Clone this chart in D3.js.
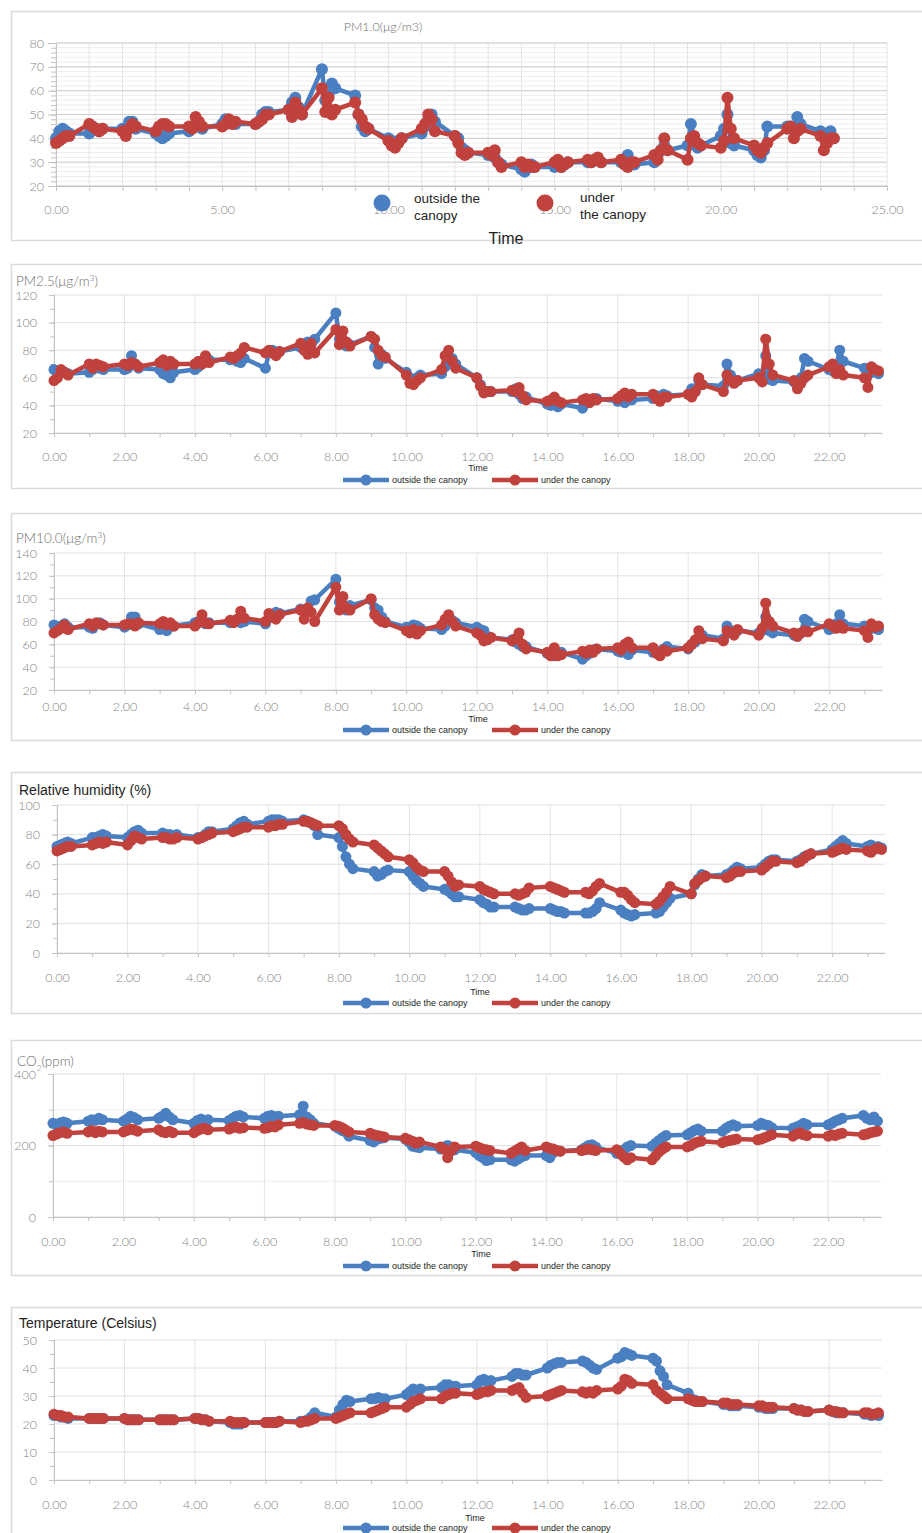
<!DOCTYPE html>
<html>
<head>
<meta charset="utf-8">
<script src="https://cdn.jsdelivr.net/npm/d3@7"></script>
<style>
  body { margin: 0; background: #fff; }
  svg { display: block; }
</style>
</head>
<body>
<svg id="chart" width="922" height="1533"></svg>
<script>
// Sampling times, written as HH.MM (hour.minute), five readings per hour
const TIME = [
  0.00,0.10,0.20,0.30,0.40, 1.00,1.10,1.20,1.30,1.40, 2.00,2.10,2.20,2.30,2.40,
  3.00,3.10,3.20,3.30,3.40, 4.00,4.10,4.20,4.30,4.40, 5.00,5.10,5.20,5.30,5.40,
  6.00,6.10,6.20,6.30,6.40, 7.00,7.10,7.20,7.30,7.40, 8.00,8.10,8.20,8.30,8.40,
  9.00,9.10,9.20,9.30,9.40, 10.00,10.10,10.20,10.30,10.40, 11.00,11.10,11.20,11.30,11.40,
  12.00,12.10,12.20,12.30,12.40, 13.00,13.10,13.20,13.30,13.40, 14.00,14.10,14.20,14.30,14.40,
  15.00,15.10,15.20,15.30,15.40, 16.00,16.10,16.20,16.30,16.40, 17.00,17.10,17.20,17.30,17.40,
  18.00,18.10,18.20,18.30,18.40, 19.00,19.10,19.20,19.30,19.40, 20.00,20.10,20.20,20.30,20.40,
  21.00,21.10,21.20,21.30,21.40, 22.00,22.10,22.20,22.30,22.40, 23.00,23.10,23.20,23.30,23.40
];

const SERIES_NAMES = ["outside the canopy", "under the canopy"];

// PM1.0 (μg/m3)
const PM1_OUT = [
  40,43,44,43,42, 42,44,44,43,44, 44,43,47,47,44, 42,41,40,41,42, 43,45,46,45,44, 46,48,47,47,46,
  46,47,50,51,51, 52,55,57,53,50, 69,56,58,63,61, 58,50,45,43,44, 40,39,38,39,40, 42,45,48,50,47,
  41,40,36,35,34, 33,34,32,30,29, 27,26,28,29,28, 28,29,28,29,30, 30,30,31,31,30, 30,31,33,30,29,
  30,33,35,37,35, 37,46,40,36,37, 41,44,50,38,37, 35,33,32,35,45, 45,45,44,49,46, 43,42,41,43,40
];
const PM1_UNDER = [
  38,39,40,41,41, 46,45,44,43,44, 43,41,44,46,45, 43,45,46,46,45, 45,44,49,47,45, 45,46,48,46,47,
  46,47,48,50,50, 52,49,55,52,50, 61,51,57,50,52, 55,50,48,45,44, 39,37,36,38,40, 44,46,50,48,43,
  41,38,34,33,34, 34,33,35,30,28, 30,28,29,28,28, 30,31,28,29,30, 31,30,31,32,30, 31,29,28,30,30,
  33,31,35,40,35, 31,40,41,38,37, 36,39,57,44,40, 37,35,34,36,38, 44,45,40,43,44, 41,35,38,40,40
];

// PM2.5 (μg/m³)
const PM25_OUT = [
  66,63,65,64,63, 64,66,68,67,66, 66,67,76,70,67, 66,63,62,60,64, 66,68,72,75,73, 73,74,72,71,74,
  67,78,80,77,79, 82,80,86,84,88, 107,88,85,83,84, 90,82,70,77,74, 64,60,58,60,62, 63,68,73,74,70,
  60,55,50,50,50, 50,52,48,45,46, 41,40,42,39,41, 38,42,43,44,45, 43,44,42,46,44, 45,47,44,48,47,
  48,52,50,58,55, 54,70,62,58,58, 63,62,76,59,58, 57,55,60,74,72, 66,65,68,80,72, 67,62,64,65,63
];
const PM25_UNDER = [
  58,60,66,64,62, 70,67,70,69,68, 70,69,71,70,68, 71,73,69,72,70, 70,72,70,76,71, 75,74,76,78,82,
  78,80,78,76,79, 85,80,77,85,78, 95,84,94,86,83, 90,88,80,76,75, 62,56,55,58,60, 66,76,80,72,67,
  60,54,49,50,50, 51,50,53,47,44, 43,44,46,43,42, 44,45,42,45,44, 45,47,49,46,48, 48,45,43,46,46,
  48,46,50,60,55, 50,62,58,56,58, 60,57,88,70,62, 58,52,56,60,62, 68,70,63,66,62, 60,53,68,66,65
];

// PM10.0 (μg/m³)
const PM10_OUT = [
  77,74,76,78,75, 75,74,78,79,77, 75,77,84,84,78, 73,74,72,76,76, 79,80,81,78,79, 79,80,82,79,80,
  78,83,86,88,87, 91,88,90,98,99, 117,97,93,90,94, 99,92,90,84,80, 75,74,77,76,74, 73,76,80,81,79,
  75,73,72,67,66, 64,62,60,58,58, 52,51,50,52,53, 47,50,52,55,56, 54,53,56,51,55, 53,54,52,56,58,
  56,60,62,65,68, 65,76,72,70,72, 70,72,84,72,70, 68,67,70,82,80, 73,74,78,86,78, 76,72,75,74,73
];
const PM10_UNDER = [
  70,72,74,77,73, 78,76,79,78,77, 77,78,78,76,79, 78,80,77,79,76, 76,79,86,79,78, 81,79,82,89,83,
  80,87,84,82,86, 90,82,92,88,80, 110,90,102,92,90, 100,86,82,80,79, 72,70,73,69,72, 77,82,86,80,76,
  70,68,63,64,66, 63,65,70,60,56, 53,50,57,50,51, 54,52,55,53,56, 57,55,60,62,57, 57,52,50,55,54,
  57,60,64,72,65, 63,72,70,68,73, 68,74,96,80,76, 70,67,70,72,71, 78,76,74,77,74, 72,66,78,75,76
];

// Relative humidity (%)
const RH_OUT = [
  72,73,74,75,74, 78,78,79,80,79, 78,80,82,83,81, 81,80,80,79,80, 78,78,80,82,82, 84,86,88,89,87,
  89,90,90,90,89, 90,89,88,86,80, 78,72,65,60,57, 55,52,53,55,56, 55,52,49,47,45, 43,42,40,38,38,
  36,34,33,31,31, 31,30,29,29,30, 30,29,28,28,27, 27,27,28,30,34, 29,27,26,25,26, 27,28,31,34,37,
  40,46,50,53,52, 53,54,56,58,57, 58,60,62,63,63, 62,63,65,66,67, 70,72,74,76,74, 72,73,71,72,71
];
const RH_UNDER = [
  69,70,71,72,72, 73,74,75,74,75, 73,76,79,78,77, 78,78,77,77,78, 77,78,79,80,81, 82,83,84,85,85,
  85,86,86,87,87, 89,89,88,87,86, 86,84,80,77,75, 73,71,69,67,65, 63,61,58,56,55, 55,52,48,45,46,
  45,43,42,41,40, 40,39,40,41,44, 45,44,43,42,41, 41,40,42,45,47, 41,41,39,36,34, 33,35,38,41,45,
  40,47,49,51,52, 51,52,54,55,55, 56,58,60,62,62, 61,62,64,66,67, 68,69,70,71,70, 69,68,70,71,70
];

// CO2 (ppm)
const CO2_OUT = [
  262,258,263,266,262, 268,272,270,276,272, 268,274,282,278,272, 276,282,290,280,272,
  262,270,274,268,272, 270,276,282,284,280, 276,282,284,280,282, 286,310,280,272,262,
  254,248,242,238,226, 214,210,218,220,222, 218,210,198,196,194, 190,196,200,186,188,
  180,172,166,158,160, 160,156,162,168,172, 172,166,180,186,184, 188,194,200,202,196,
  178,176,188,196,200, 198,206,214,222,228, 230,236,242,246,240, 240,248,254,258,254,
  256,262,258,256,250, 248,252,256,262,258, 258,262,268,272,276, 284,276,272,280,268
];
const CO2_UNDER = [
  228,232,236,238,234, 238,242,236,240,238, 238,242,246,244,240, 244,238,236,240,236,
  236,242,246,248,244, 246,250,252,248,250, 248,250,254,252,258, 262,264,260,258,256,
  256,254,250,244,238, 234,230,228,226,224, 220,216,212,206,210, 196,190,166,186,196,
  198,194,190,188,186, 178,184,190,196,186, 196,192,190,186,184, 186,188,190,188,186,
  188,178,168,160,166, 160,170,182,190,196, 196,200,206,210,212, 208,212,214,216,218,
  216,218,222,226,230, 226,232,236,230,228, 226,230,228,232,234, 230,232,236,238,240
];

// Temperature (Celsius)
const TEMP_OUT = [
  23,23,22.5,22.5,22, 22,22,22,22,22, 22,21.5,21.5,21.5,21.5, 21.5,21.5,21.5,21.5,21.5,
  22,22,21.5,21.5,21, 20.5,20,20,20,20.5, 20.5,20.5,20.5,20.5,21, 21,21,21.5,22.5,24,
  22.5,25,27,28.5,28, 29,29,29.5,29,29, 30.5,31.5,32.5,32,32.5, 33,34,34,33.5,33.5,
  34,35.5,36,35,35.5, 37,38,38,37.5,37.5, 40,41,41.5,42,42, 42.5,42,41,40,39.5,
  43.5,44,45.5,45,44.5, 43.5,42.5,39,37,34, 31,29,28.5,28,28, 27,27,26.5,26.5,26.5,
  26,26,25.5,25.5,25.5, 25.5,25,25,24.5,24.5, 25,24.5,24,24,24, 23.5,23.5,23,23.5,23
];
const TEMP_UNDER = [
  23.5,23,23,22.5,22.5, 22,22,22,22,22, 22,21.5,21.5,21.5,21.5, 21.5,21.5,21.5,21.5,21.5,
  22,22,21.5,21.5,21, 21,20.5,20.5,20.5,20.5, 20.5,20.5,20.5,20.5,21, 20.5,21,21,21.5,22,
  22,22.5,23,23.5,24, 24,24.5,25,25.5,26, 26,27,28,28.5,29, 29,30,30.5,31,31,
  30.5,31,31.5,31.5,32, 32,32.5,33,31,29.5, 30,30.5,31,31.5,32, 31.5,31,31.5,31,32,
  32.5,33.5,36,35.5,34.5, 34,32,31,30,29, 29,28.5,28,28,28, 27.5,27.5,27,27,27,
  26.5,26.5,26,26,26, 25.5,25,25,24.5,24.5, 25,24.5,24.5,24,24, 24,24,23.5,23.5,24
];

// Axis tick values
const X_TICKS_WIDE = [0, 5, 10, 15, 20, 25];
const X_TICKS = [0, 2, 4, 6, 8, 10, 12, 14, 16, 18, 20, 22];
const Y_TICKS_PM1 = [20, 30, 40, 50, 60, 70, 80];
const Y_TICKS_PM25 = [20, 40, 60, 80, 100, 120];
const Y_TICKS_PM10 = [20, 40, 60, 80, 100, 120, 140];
const Y_TICKS_RH = [0, 20, 40, 60, 80, 100];
const Y_TICKS_CO2 = [0, 200, 400];
const Y_TICKS_TEMP = [0, 10, 20, 30, 40, 50];

const BLUE = "#4a7fc2";
const RED = "#c1423d";
const LABEL_FONT = "Lato, 'Open Sans', sans-serif";
const TEXT_FONT = "'Liberation Sans', Arial, sans-serif";
const NARROW_FONT = "'Liberation Sans Narrow', 'Liberation Sans', Arial, sans-serif";

const svg = d3.select("#chart");
const fmtX = d3.format(".2f");

function range(a, b, step) {
  const out = [];
  for (let v = a; v <= b + 1e-9; v += step) out.push(+v.toFixed(6));
  return out;
}

function styleAxis(sel, color) {
  sel.select(".domain").attr("stroke", color).attr("stroke-width", 1);
  sel.selectAll(".tick line").attr("stroke", color);
  sel.selectAll(".tick text")
    .attr("fill", "#858585")
    .attr("font-family", LABEL_FONT)
    .attr("font-weight", 300)
    .attr("font-size", 12.5);
}

function drawPanel(cfg) {
  const g = svg.append("g");

  // panel frame
  g.append("rect")
    .attr("x", 11.5).attr("y", cfg.frameY + 0.5)
    .attr("width", 930).attr("height", cfg.frameH)
    .attr("fill", "#fff").attr("stroke", "#dadada").attr("stroke-width", 1.5);

  const x = d3.scaleLinear().domain(cfg.xDomain).range([cfg.left, cfg.right]);
  const y = d3.scaleLinear().domain(cfg.yDomain).range([cfg.bottom, cfg.top]);

  // minor horizontal grid
  g.append("g").selectAll("line").data(cfg.yGridMinor).join("line")
    .attr("x1", cfg.left).attr("x2", cfg.right)
    .attr("y1", d => y(d)).attr("y2", d => y(d))
    .attr("stroke", "#ededed").attr("stroke-width", 1);

  // vertical grid
  g.append("g").selectAll("line").data(cfg.xGrid).join("line")
    .attr("x1", d => x(d)).attr("x2", d => x(d))
    .attr("y1", cfg.top).attr("y2", cfg.bottom)
    .attr("stroke", "#e4e4e4").attr("stroke-width", 1);

  // major horizontal grid
  g.append("g").selectAll("line").data(cfg.yTicks).join("line")
    .attr("x1", cfg.left).attr("x2", cfg.right)
    .attr("y1", d => y(d)).attr("y2", d => y(d))
    .attr("stroke", cfg.majorGrid).attr("stroke-width", 1);

  // x axis: minor ticks, then labelled ticks
  g.append("g").attr("transform", `translate(0,${cfg.bottom})`)
    .call(d3.axisBottom(x).tickValues(cfg.xMinor).tickSize(cfg.xTickLen).tickSizeOuter(0).tickFormat(""))
    .call(s => styleAxis(s, "#c4c4c4"));
  g.append("g").attr("transform", `translate(0,${cfg.bottom})`)
    .call(d3.axisBottom(x).tickValues(cfg.xTicks).tickSize(0).tickPadding(cfg.labelY - cfg.bottom - 4.4).tickFormat(fmtX))
    .call(s => { styleAxis(s, "#c4c4c4"); s.select(".domain").remove(); });

  // y axis: minor ticks, then labelled ticks
  g.append("g").attr("transform", `translate(${cfg.left},0)`)
    .call(d3.axisLeft(y).tickValues(cfg.yMinor).tickSize(cfg.yMinorLen).tickSizeOuter(0).tickFormat(""))
    .call(s => styleAxis(s, "#c4c4c4"));
  g.append("g").attr("transform", `translate(${cfg.left},0)`)
    .call(d3.axisLeft(y).tickValues(cfg.yTicks).tickSize(cfg.yTickLen).tickSizeOuter(0).tickPadding(cfg.yPad).tickFormat(d3.format("d")))
    .call(s => styleAxis(s, "#c4c4c4"));

  // series: outside (blue) first, under (red) on top
  const line = d3.line().x(d => x(d[0])).y(d => y(d[1]));
  [[cfg.out, BLUE], [cfg.under, RED]].forEach(([vals, color]) => {
    const pts = TIME.map((t, i) => [t, vals[i]]);
    g.append("path").datum(pts)
      .attr("d", line)
      .attr("fill", "none").attr("stroke", color)
      .attr("stroke-width", cfg.lw).attr("stroke-linejoin", "round");
    g.append("g").selectAll("circle").data(pts).join("circle")
      .attr("cx", d => x(d[0])).attr("cy", d => y(d[1]))
      .attr("r", cfg.r).attr("fill", color);
  });

  // title
  const title = g.append("text")
    .attr("x", cfg.titleX).attr("y", cfg.titleY)
    .attr("text-anchor", cfg.titleAnchor || "start")
    .attr("font-family", cfg.titleDark ? TEXT_FONT : LABEL_FONT)
    .attr("font-weight", cfg.titleDark ? 400 : 300)
    .attr("font-size", cfg.titleSize)
    .attr("fill", cfg.titleDark ? "#1e1e1e" : "#6e6e6e");
  cfg.titleParts.forEach(p => {
    const ts = title.append("tspan").text(p.t);
    if (p.sup) ts.attr("baseline-shift", "super").attr("font-size", cfg.titleSize * 0.62);
    if (p.sub) ts.attr("baseline-shift", "sub").attr("font-size", cfg.titleSize * 0.62);
  });

  return { g, x, y };
}

// Small legend used under panels 2–6
function smallLegend(g, cfg) {
  const items = [
    { name: SERIES_NAMES[0], color: BLUE, x1: 343, x2: 389, tx: 392 },
    { name: SERIES_NAMES[1], color: RED, x1: 492, x2: 538, tx: 541 }
  ];
  g.append("text")
    .attr("x", cfg.timeX).attr("y", cfg.timeY + 4)
    .attr("text-anchor", "middle")
    .attr("font-family", NARROW_FONT).attr("font-size", 9).attr("fill", "#1e1e1e")
    .text("Time");
  items.forEach(it => {
    g.append("line")
      .attr("x1", it.x1).attr("x2", it.x2)
      .attr("y1", cfg.legendY).attr("y2", cfg.legendY)
      .attr("stroke", it.color).attr("stroke-width", 4.5);
    g.append("circle")
      .attr("cx", (it.x1 + it.x2) / 2).attr("cy", cfg.legendY)
      .attr("r", 5.5).attr("fill", it.color);
    g.append("text")
      .attr("x", it.tx).attr("y", cfg.legendY + 3)
      .attr("font-family", NARROW_FONT).attr("font-size", 9).attr("fill", "#1e1e1e")
      .text(it.name);
  });
}

// ---- Panel 1: PM1.0 ----
const p1 = drawPanel({
  frameY: 11, frameH: 229,
  left: 56, right: 887, top: 43, bottom: 186,
  xDomain: [0, 25], yDomain: [20, 80],
  xTicks: X_TICKS_WIDE, xMinor: range(0, 25, 1), xGrid: range(0, 25, 1), xTickLen: 5,
  yTicks: Y_TICKS_PM1, yMinor: range(20, 80, 2), yGridMinor: range(20, 80, 2),
  yTickLen: 8, yMinorLen: 5, yPad: 4, majorGrid: "#cdcdcd",
  labelY: 210,
  out: PM1_OUT, under: PM1_UNDER, lw: 4.5, r: 6,
  titleX: 383, titleY: 31, titleAnchor: "middle", titleSize: 12.5,
  titleParts: [{ t: "PM1.0(μg/m3)" }]
});
// legend and axis title of panel 1
[
  { color: BLUE, cx: 382, tx: 414, lines: ["outside the", "canopy"] },
  { color: RED, cx: 545, tx: 580, lines: ["under", "the canopy"] }
].forEach((it, i) => {
  p1.g.append("circle").attr("cx", it.cx).attr("cy", 203).attr("r", 8.5).attr("fill", it.color);
  const t = p1.g.append("text")
    .attr("font-family", TEXT_FONT).attr("font-size", 13.5).attr("fill", "#1e1e1e");
  it.lines.forEach((ln, k) => {
    t.append("tspan").attr("x", it.tx).attr("y", (i === 0 ? 203 : 202) + k * 17).text(ln);
  });
});
p1.g.append("text")
  .attr("x", 506).attr("y", 244).attr("text-anchor", "middle")
  .attr("font-family", TEXT_FONT).attr("font-size", 16).attr("fill", "#1e1e1e")
  .text("Time");

// ---- Panels 2–6 share the same time axis ----
const common = {
  xDomain: [0, 23.5], xTicks: X_TICKS, xMinor: range(0, 23, 1), xGrid: X_TICKS, xTickLen: 4,
  yTickLen: 5, yMinorLen: 4, yPad: 12, majorGrid: "#e0e0e0", yGridMinor: [],
  lw: 4.5, r: 5.5
};

const lower = [
  {
    frameY: 264, frameH: 224, left: 54, right: 882, top: 295, bottom: 433,
    yDomain: [20, 120], yTicks: Y_TICKS_PM25, yMinor: range(20, 120, 10),
    labelY: 457, timeX: 478, timeY: 467, legendY: 480,
    out: PM25_OUT, under: PM25_UNDER,
    titleX: 16, titleY: 286, titleSize: 13.5,
    titleParts: [{ t: "PM2.5(μg/m" }, { t: "3", sup: true }, { t: ")" }]
  },
  {
    frameY: 513, frameH: 227, left: 54, right: 882, top: 553, bottom: 690,
    yDomain: [20, 140], yTicks: Y_TICKS_PM10, yMinor: range(20, 140, 10),
    labelY: 707, timeX: 478, timeY: 718, legendY: 730,
    out: PM10_OUT, under: PM10_UNDER,
    titleX: 16, titleY: 543, titleSize: 13.5,
    titleParts: [{ t: "PM10.0(μg/m" }, { t: "3", sup: true }, { t: ")" }]
  },
  {
    frameY: 772, frameH: 241, left: 57, right: 885, top: 805, bottom: 953,
    yDomain: [0, 100], yTicks: Y_TICKS_RH, yMinor: range(0, 100, 10),
    labelY: 978, timeX: 480, timeY: 991, legendY: 1003,
    out: RH_OUT, under: RH_UNDER,
    titleX: 19, titleY: 795, titleSize: 14, titleDark: true,
    titleParts: [{ t: "Relative humidity (%)" }]
  },
  {
    frameY: 1040, frameH: 235, left: 53, right: 881, top: 1074, bottom: 1217,
    yDomain: [0, 400], yTicks: Y_TICKS_CO2, yMinor: range(0, 400, 100),
    yGridMinor: [100, 300],
    labelY: 1242, timeX: 481, timeY: 1253, legendY: 1266,
    out: CO2_OUT, under: CO2_UNDER,
    titleX: 17, titleY: 1066, titleSize: 13.5,
    titleParts: [{ t: "CO" }, { t: "2", sub: true }, { t: "(ppm)" }]
  },
  {
    frameY: 1307, frameH: 240, left: 54, right: 882, top: 1340, bottom: 1480,
    yDomain: [0, 50], yTicks: Y_TICKS_TEMP, yMinor: range(0, 50, 5),
    labelY: 1505, timeX: 475, timeY: 1517, legendY: 1528,
    out: TEMP_OUT, under: TEMP_UNDER,
    titleX: 19, titleY: 1328, titleSize: 14, titleDark: true,
    titleParts: [{ t: "Temperature (Celsius)" }]
  }
];

lower.forEach(p => {
  const cfg = Object.assign({}, common, p);
  const drawn = drawPanel(cfg);
  smallLegend(drawn.g, cfg);
});
</script>
</body>
</html>
